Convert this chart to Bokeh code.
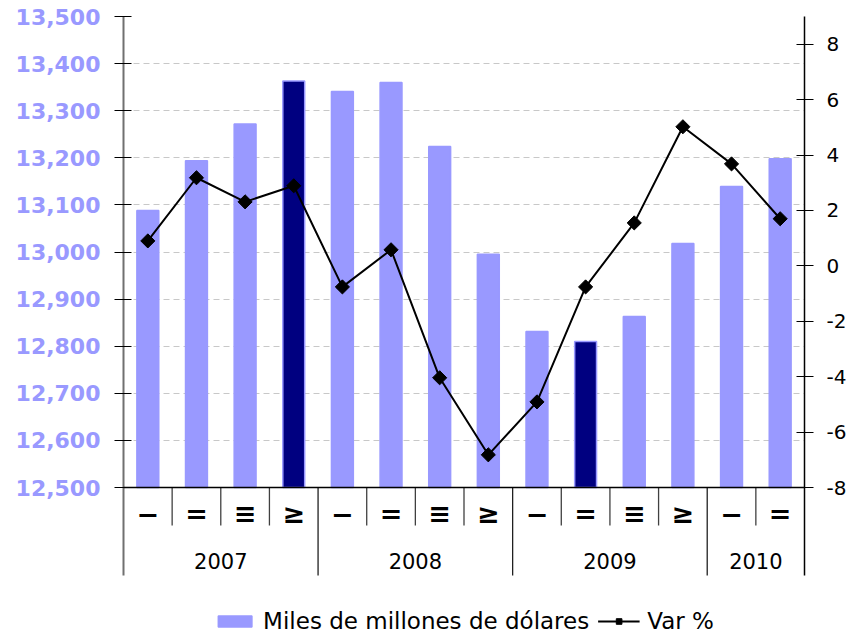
from bokeh.plotting import figure
from bokeh.models import (Range1d, LinearAxis, FixedTicker, NumeralTickFormatter,
                          Span, Legend, LegendItem, ColumnDataSource)
from bokeh.core.properties import value
from bokeh.embed import file_html
from bokeh.resources import INLINE

# ---------------- data ----------------
years = ["2007", "2008", "2009", "2010"]
quarters_per_year = [4, 4, 4, 2]
quarter_symbols = ["\u2212", "=", "\u2261", "\u2265"]
gdp = [13088, 13194, 13272, 13363, 13341, 13360, 13224, 12995,
       12831, 12810, 12863, 13018, 13139, 13198]
var_pct = [0.9, 3.18, 2.31, 2.89, -0.76, 0.58, -4.04, -6.82,
           -4.91, -0.76, 1.55, 5.02, 3.68, 1.70]
highlighted = [False, False, False, True, False, False, False, False,
               False, True, False, False, False, False]
left_ticks = [12500, 12600, 12700, 12800, 12900, 13000, 13100, 13200, 13300, 13400, 13500]
right_ticks = [-8, -6, -4, -2, 0, 2, 4, 6, 8]
left_min, left_max = 12500, 13500
right_min, right_max = -8, 9

# ---------------- layout helpers ----------------
AXIS_PX = 471      # frame height above the category axis
BAND_PX = 88       # category label band below the axis
FRAME_H = 618      # frame incl. category band and legend
FONT = value("DejaVu Sans")
LAVENDER = "#9999FF"
NAVY = "#000080"

def below(px):
    return left_min - (left_max - left_min) * px / AXIS_PX

def below_pct(px):
    return right_min - (right_max - right_min) * px / AXIS_PX

n = len(gdp)
xs = [i + 0.5 for i in range(n)]
q_labels = []
for cnt in quarters_per_year:
    q_labels += quarter_symbols[:cnt]
bar_colors = [NAVY if h else LAVENDER for h in highlighted]

boundaries = [0]
for cnt in quarters_per_year:
    boundaries.append(boundaries[-1] + cnt)
year_centers = [(boundaries[i] + boundaries[i + 1]) / 2 for i in range(len(years))]
quarter_seps = [i for i in range(n + 1) if i not in boundaries]

p = figure(frame_width=681, frame_height=FRAME_H,
           output_backend="svg", toolbar_location=None,
           x_range=Range1d(0, n),
           y_range=Range1d(below(FRAME_H - AXIS_PX), left_max),
           x_axis_location=None,
           min_border_left=123, min_border_right=42, min_border_top=16,
           min_border_bottom=0)
p.outline_line_color = None
p.background_fill_color = "white"
p.border_fill_color = "white"
p.extra_y_ranges = {"pct": Range1d(below_pct(FRAME_H - AXIS_PX), right_max)}

# grid
p.xgrid.visible = False
p.ygrid.ticker = FixedTicker(ticks=left_ticks)
p.ygrid.grid_line_color = "#C8C8C8"
p.ygrid.grid_line_dash = "6 4"
p.ygrid.grid_line_width = 1

# left axis
ax = p.yaxis[0]
ax.ticker = FixedTicker(ticks=left_ticks)
ax.bounds = (below(BAND_PX), left_max)
ax.formatter = NumeralTickFormatter(format="0,0")
ax.major_label_text_font = "DejaVu Sans"
ax.major_label_text_font_style = "bold"
ax.major_label_text_font_size = "22px"
ax.major_label_text_color = LAVENDER
ax.major_label_standoff = 14
ax.axis_line_color = "#707070"
ax.axis_line_width = 2
ax.major_tick_line_color = "black"
ax.major_tick_in = 8
ax.major_tick_out = 9
ax.minor_tick_line_color = None

# right axis
rax = LinearAxis(y_range_name="pct", ticker=FixedTicker(ticks=right_ticks),
                 formatter=NumeralTickFormatter(format="0"))
rax.bounds = (below_pct(BAND_PX), right_max)
rax.major_label_text_font = "DejaVu Sans"
rax.major_label_text_font_size = "20px"
rax.major_label_text_color = "black"
rax.major_label_standoff = 13
rax.axis_line_color = "black"
rax.axis_line_width = 1.5
rax.major_tick_line_color = "black"
rax.major_tick_in = 8
rax.major_tick_out = 9
rax.minor_tick_line_color = None
p.add_layout(rax, "right")

# bars
src = ColumnDataSource(dict(x=xs, top=gdp, color=bar_colors))
bars = p.vbar(x="x", top="top", bottom=left_min, width=0.45, source=src,
              fill_color="color", line_color=LAVENDER, line_width=1.5)

# category axis line
p.add_layout(Span(location=left_min, dimension="width", line_color="black", line_width=1.5))

# separators
p.segment(x0=quarter_seps, y0=[left_min] * len(quarter_seps), x1=quarter_seps,
          y1=[below(38)] * len(quarter_seps), line_color="#404040", line_width=1.3)
p.segment(x0=boundaries[1:-1], y0=[left_min] * (len(boundaries) - 2), x1=boundaries[1:-1],
          y1=[below(BAND_PX)] * (len(boundaries) - 2), line_color="#202020", line_width=1.3)

# category labels
p.text(x=xs, y=[below(26)] * n, text=q_labels, text_align="center",
       text_baseline="middle", text_font=FONT, text_font_size="27px",
       text_font_style="bold", text_color="black")
p.text(x=year_centers, y=[below(73)] * len(years), text=years, text_align="center",
       text_baseline="middle", text_font=FONT, text_font_size="21px", text_color="black")

# line
ln = p.line(xs, var_pct, y_range_name="pct", line_color="black", line_width=2)
mk = p.scatter(xs, var_pct, y_range_name="pct", marker="square", angle=0.785398,
               size=10, fill_color="black", line_color="black")

legend = Legend(items=[LegendItem(label="Miles de millones de dólares", renderers=[bars], index=0),
                       LegendItem(label="Var %", renderers=[ln, mk])],
                orientation="horizontal", location="bottom_center",
                border_line_color=None, background_fill_alpha=0,
                label_text_font="DejaVu Sans", label_text_font_size="23px",
                label_text_color="black",
                glyph_width=42, glyph_height=14, spacing=8, label_standoff=8,
                padding=0, margin=0)
p.add_layout(legend)

open("out.html", "w").write(file_html(p, INLINE))
